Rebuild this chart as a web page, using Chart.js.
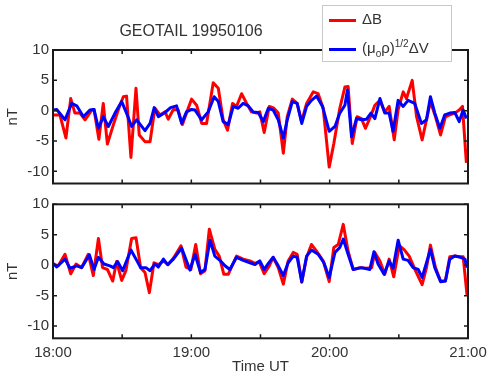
<!DOCTYPE html>
<html>
<head>
<meta charset="utf-8">
<script src="https://cdn.jsdelivr.net/npm/chart.js@4.4.1/dist/chart.umd.min.js"></script>
<style>
  body { margin: 0; background: #fff; }
  #wrap { position: relative; width: 488px; height: 376px; overflow: hidden; font-family: "Liberation Sans", Arial, sans-serif; color: #333; }
  canvas { position: absolute; left: 0; }
  #c1 { top: 0; }
  #c2 { top: 190px; }
  #title { position: absolute; left: 91px; width: 200px; top: 22px; text-align: center; font-size: 16px; }
  #legend { position: absolute; left: 322px; top: 5px; width: 128px; height: 55px; border: 1px solid #c8c8c8; background: #fff; font-size: 15px; }
  .row { position: absolute; left: 6px; height: 20px; line-height: 20px; white-space: nowrap; }
  .sw { display: inline-block; width: 27px; height: 3px; vertical-align: middle; margin-right: 6px; }
  sub, sup { font-size: 10px; }
</style>
</head>
<body>
<div id="wrap">
  <canvas id="c1" width="488" height="190"></canvas>
  <canvas id="c2" width="488" height="186"></canvas>
  <div id="title">GEOTAIL 19950106</div>
  <div id="legend">
    <div class="row" style="top:3px"><span class="sw" style="background:#ff0000"></span>&Delta;B</div>
    <div class="row" style="top:28px"><span class="sw" style="background:#0000ff"></span>(&mu;<sub>o</sub>&rho;)<sup>1/2</sup>&Delta;V</div>
  </div>
</div>
<script>
// minutes after 18:00 UT, values in nT
const tRedTop = [0,3.0,5.6,7.7,9.5,11.7,13.9,16.8,17.8,19.9,21.8,23.6,26.2,28.3,30.5,31.9,33.8,36.0,37.4,39.9,42.1,44.2,46.4,48.6,50.0,52.2,54.3,56.1,57.9,60.1,62.3,64.5,66.6,69.5,71.7,73.8,75.7,77.9,79.6,81.8,84.0,86.1,88.3,89.7,91.6,93.8,95.8,97.7,99.9,101.6,103.8,105.9,107.8,110.0,112.9,115.0,117.2,119.8,121.8,124.4,126.6,128.0,129.8,131.9,133.8,135.5,137.7,139.6,141.8,143.9,145.8,148.0,149.7,151.9,153.3,155.8,157.7,160.1,162.0,163.7,165.9,168.1,170.2,172.1,174.3,176.2,177.6,179.3];
const vRedTop = [-0.7,-0.7,-4.5,2.0,-0.4,-0.4,-1.5,0.1,0.2,-4.7,1.2,-5.5,-2.3,0.1,2.3,2.4,-7.7,3.7,-4.0,-5.1,-5.1,0.4,-0.7,-0.2,-1.4,0.2,0.1,-2.3,-0.4,1.9,0.9,-2.1,-2.1,4.6,3.7,-1.5,-3.2,1.2,0.7,2.8,1.2,-0.2,-0.4,-0.2,-3.6,0.7,0.4,-0.4,-7.0,-1.0,1.9,1.2,-1.8,1.2,3.1,2.8,0.4,-9.3,-5.4,0.4,3.9,4.0,-5.4,-1.0,-1.3,-2.9,-1.0,0.9,1.7,-0.2,0.7,-4.8,0.2,3.1,2.0,5.0,-1.0,-4.8,-1.5,1.5,-1.0,-4.0,-1.0,-0.7,-0.4,0.1,0.7,-8.6];

const tBlueTop = [0,1.6,5.2,8.1,10.3,13.2,16.0,17.8,19.7,21.8,24.0,26.9,29.8,31.9,34.1,36.3,39.9,42.1,43.9,45.7,48.6,51.0,53.6,55.8,57.9,60.1,61.6,64.5,67.3,69.9,71.7,73.8,76.0,78.2,80.3,82.5,84.7,86.8,89.0,91.2,93.4,95.5,97.7,99.9,101.6,103.8,105.9,107.9,110.0,112.1,114.3,116.9,119.8,122.3,124.4,126.6,127.7,129.5,131.6,133.8,136.0,137.9,139.6,141.8,143.9,145.8,147.5,149.7,151.9,154.0,156.9,159.8,162.0,163.7,165.6,167.8,169.9,172.1,174.3,176.2,177.9,179.3];
const vBlueTop = [0.1,0.2,-1.5,1.2,0.8,-1.0,0.1,0.2,-2.9,-1.0,-2.6,-0.4,1.5,-0.4,-2.6,-1.5,-3.3,-2.1,0.5,-1.0,-0.3,0.5,0.8,-2.1,-0.2,0.2,0.1,-1.5,-0.2,2.3,1.5,-1.8,-2.3,0.7,0.4,1.2,0.8,-0.2,-0.3,-1.8,0.4,0.1,-1.5,-4.5,-1.5,1.5,1.2,-2.1,0.7,1.7,2.4,0.7,-3.4,-2.6,-0.4,0.9,3.4,-4.3,-1.3,-1.5,-1.4,-0.4,-1.3,2.0,-0.4,-0.4,-3.4,1.7,0.7,1.7,1.2,-2.1,-1.5,2.3,-0.4,-2.9,-0.7,-0.4,-0.3,-1.8,0.1,-1.3];

const tRedBot = [0,2.3,5.2,7.7,10.0,12.4,15.3,17.5,19.7,21.5,23.6,25.9,27.6,29.8,31.6,34.1,36.0,38.0,39.9,41.8,43.8,45.7,47.9,50.0,52.5,55.5,57.7,59.8,61.9,64.0,65.9,67.8,70.2,72.1,74.1,76.0,79.6,82.5,85.4,87.6,89.4,91.6,93.8,95.5,97.7,99.9,102.0,104.2,105.9,107.9,110.0,112.1,114.3,117.2,119.8,121.8,123.7,125.9,128.0,130.2,133.1,136.0,138.2,139.6,141.8,143.9,145.8,147.8,150.2,152.2,154.5,157.2,160.1,162.0,163.7,165.9,168.1,170.2,172.1,174.3,176.2,177.9,179.6];
const vRedBot = [0.2,-0.1,1.8,-1.4,0.2,-0.4,1.8,-1.7,4.4,-0.4,-0.7,-2.6,0.6,-2.5,-0.9,4.4,4.5,-0.4,-1.2,-4.5,0.4,0.1,0.7,0.1,1.3,3.2,-0.3,-0.7,3.4,-1.4,-0.9,5.9,2.6,1.5,-1.5,-1.5,1.5,1.0,0.7,0.3,0.6,-1.4,-0.1,1.3,-0.4,-3.1,0.7,2.1,1.8,-2.8,1.3,3.4,2.3,0.7,-2.7,2.9,3.4,6.7,2.3,-0.7,-0.4,-0.5,-0.4,2.1,0.7,-1.5,1.0,-1.9,3.2,2.6,1.5,-0.9,-3.2,-0.4,3.3,-0.4,-2.6,-2.6,1.4,1.5,1.4,1.4,-5.0];

const tBlueBot = [0,1.6,5.2,7.4,10.3,12.4,15.8,17.8,19.7,22.1,24.7,26.2,28.0,30.2,33.8,36.0,38.0,40.3,42.1,44.2,45.7,47.9,49.7,52.2,55.8,59.4,61.6,64.0,65.9,68.1,70.2,72.4,74.6,76.7,79.6,82.5,85.4,87.6,89.7,91.6,93.4,95.5,97.7,99.9,102.0,104.2,105.9,107.9,110.0,112.1,115.0,117.5,119.8,122.3,124.4,125.9,128.0,130.2,133.8,137.4,139.2,141.0,143.6,145.8,147.5,149.7,151.9,154.0,156.2,158.4,160.1,162.0,163.7,165.6,168.1,170.2,172.1,174.3,176.8,178.7,179.6];
const vBlueBot = [0.3,-0.3,1.0,-0.5,-0.1,-0.4,1.7,-0.7,1.3,0.2,-0.1,-0.4,0.6,-0.9,2.5,1.0,-0.4,-0.4,-0.9,0.2,-0.3,1.0,0.1,1.0,2.8,-0.8,1.8,-1.2,-0.7,4.1,1.5,0.8,-0.1,-0.7,1.3,0.8,0.4,0.1,0.7,-0.7,0.3,1.3,-0.1,-1.7,0.4,1.5,1.3,-2.7,1.5,2.5,1.8,0.4,-2.0,2.1,2.9,4.3,1.8,-0.7,-0.4,-0.7,2.2,0.2,-1.5,0.7,-0.5,4.1,1.0,0.8,-0.4,-0.7,-2.0,0.4,2.6,-0.4,-2.7,-2.6,1.0,1.5,1.3,1.0,-0.4];

const xTicks = [0, 30, 60, 90, 120, 150, 180];
const xLabels = {0: '18:00', 60: '19:00', 120: '20:00', 180: '21:00'};
const yTicks = [-10, -5, 0, 5, 10];

const FONT = '"Liberation Sans", Arial, sans-serif';
const TXT = '#333';

function pts(t, v) { return t.map((x, i) => ({ x: x, y: v[i] })); }

// box with inward tick marks, like the original plot
const framePlugin = {
  id: 'frame',
  afterDatasetsDraw(chart) {
    const { ctx, chartArea: a, scales } = chart;
    ctx.save();
    ctx.strokeStyle = '#1a1a1a';
    ctx.lineWidth = 1.5;
    ctx.beginPath();
    xTicks.forEach(v => {
      const px = scales.x.getPixelForValue(v);
      ctx.moveTo(px, a.top); ctx.lineTo(px, a.top + 4);
      ctx.moveTo(px, a.bottom); ctx.lineTo(px, a.bottom - 4);
    });
    yTicks.forEach(v => {
      const py = scales.y.getPixelForValue(v);
      ctx.moveTo(a.left, py); ctx.lineTo(a.left + 4, py);
      ctx.moveTo(a.right, py); ctx.lineTo(a.right - 4, py);
    });
    ctx.stroke();
    ctx.lineWidth = 2;
    ctx.strokeRect(a.left, a.top, a.right - a.left, a.bottom - a.top);
    ctx.restore();
  }
};

function makePanel(id, red, blue, opts) {
  new Chart(document.getElementById(id), {
    type: 'line',
    data: {
      datasets: [
        // higher order is drawn first, so blue ends up on top of red
        { data: red, order: 2, borderColor: '#ff0000', borderWidth: 3, pointRadius: 0, tension: 0, borderJoinStyle: 'round' },
        { data: blue, order: 1, borderColor: '#0000ff', borderWidth: 3, pointRadius: 0, tension: 0, borderJoinStyle: 'round' }
      ]
    },
    options: {
      responsive: false,
      animation: false,
      layout: { padding: { left: 0, right: 20, top: opts.top, bottom: 0 } },
      plugins: { legend: { display: false }, tooltip: { enabled: false } },
      scales: {
        x: {
          type: 'linear', min: 0, max: 180,
          grid: { display: false, drawTicks: false },
          border: { display: false },
          afterBuildTicks: s => { s.ticks = xTicks.map(v => ({ value: v })); },
          afterFit: s => { s.height = opts.xh; s.paddingLeft = 0; s.paddingRight = 0; },
          ticks: {
            display: opts.labels, padding: 6, maxRotation: 0, autoSkip: false,
            color: TXT, font: { family: FONT, size: 15 },
            callback: v => xLabels[v] || ''
          },
          title: { display: opts.labels, text: 'Time UT', color: TXT, font: { family: FONT, size: 15 }, padding: 0 }
        },
        y: {
          min: -12, max: 10,
          grid: { display: false, drawTicks: false },
          border: { display: false },
          afterBuildTicks: s => { s.ticks = yTicks.map(v => ({ value: v })); },
          afterFit: s => { s.width = 53; s.paddingTop = 0; s.paddingBottom = 0; },
          ticks: { padding: 4, color: TXT, font: { family: FONT, size: 15 } },
          title: { display: true, text: 'nT', color: TXT, font: { family: FONT, size: 15 }, padding: { top: 3.5, bottom: 0 } }
        }
      }
    },
    plugins: [framePlugin]
  });
}

makePanel('c1', pts(tRedTop, vRedTop), pts(tBlueTop, vBlueTop), { top: 50, xh: 6.5, labels: false });
makePanel('c2', pts(tRedBot, vRedBot), pts(tBlueBot, vBlueBot), { top: 14.3, xh: 37.7, labels: true });
</script>
</body>
</html>
